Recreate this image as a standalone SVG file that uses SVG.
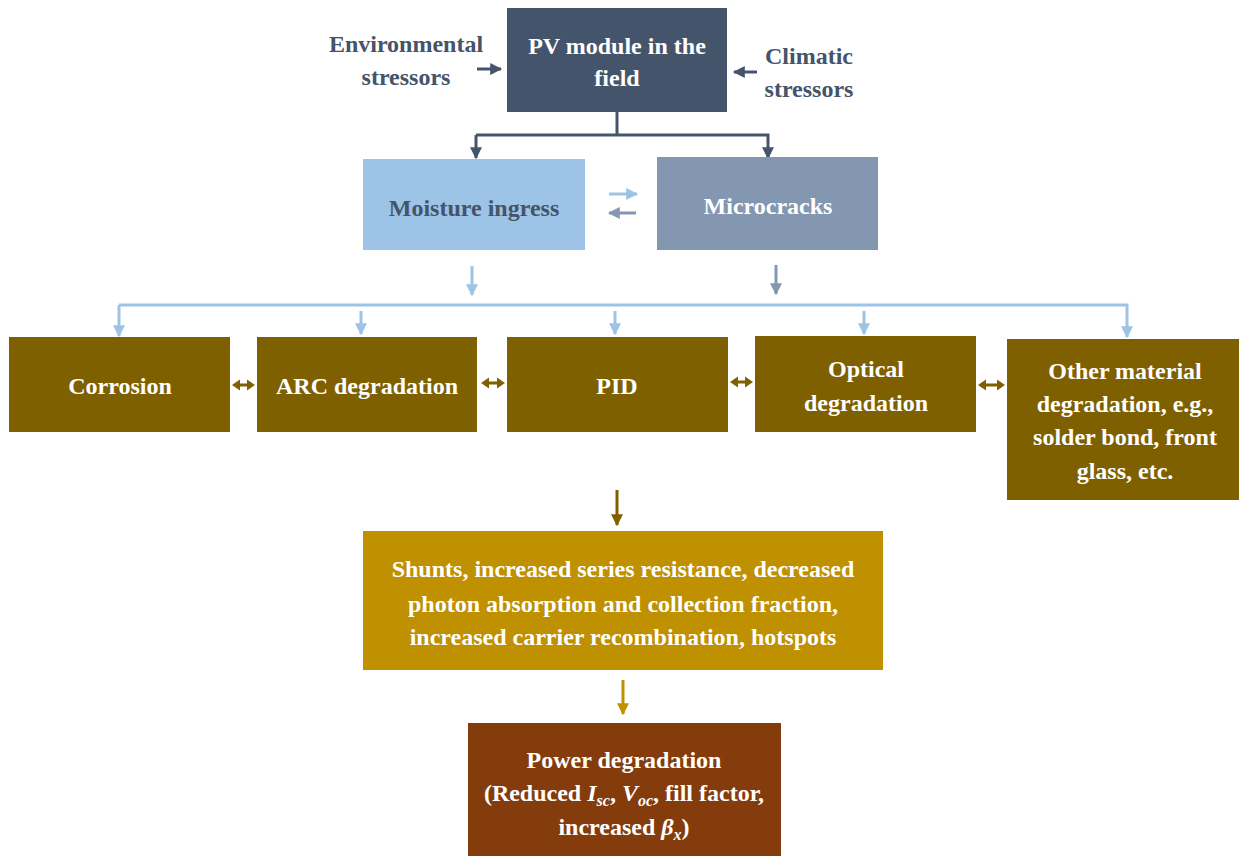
<svg xmlns="http://www.w3.org/2000/svg" width="1239" height="856" viewBox="0 0 1239 856">
<defs>
<style>
text{font-family:"Liberation Serif","Times New Roman",serif;font-weight:bold;font-size:24px;text-anchor:middle}
.w{fill:#ffffff}
.s{fill:#44546a}
.ln{fill:none;stroke-width:3}
.dbl{fill:#7f6000}
</style>
<marker id="aS" viewBox="0 0 10 10" refX="9" refY="5" markerWidth="4" markerHeight="4" orient="auto" markerUnits="strokeWidth"><path d="M0,0L10,5L0,10z" fill="#44546a"/></marker>
<marker id="aB" viewBox="0 0 10 10" refX="9" refY="5" markerWidth="4" markerHeight="4" orient="auto" markerUnits="strokeWidth"><path d="M0,0L10,5L0,10z" fill="#9dc3e6"/></marker>
<marker id="aG" viewBox="0 0 10 10" refX="9" refY="5" markerWidth="4" markerHeight="4" orient="auto" markerUnits="strokeWidth"><path d="M0,0L10,5L0,10z" fill="#8497b0"/></marker>
<marker id="aR" viewBox="0 0 10 10" refX="9" refY="5" markerWidth="4" markerHeight="4" orient="auto" markerUnits="strokeWidth"><path d="M0,0L10,5L0,10z" fill="#7f6000"/></marker>
<marker id="aY" viewBox="0 0 10 10" refX="9" refY="5" markerWidth="4" markerHeight="4" orient="auto" markerUnits="strokeWidth"><path d="M0,0L10,5L0,10z" fill="#bf9000"/></marker>
</defs>

<g id="connectors">
<line class="ln" x1="477" y1="69" x2="501" y2="69" stroke="#44546a" marker-end="url(#aS)"/>
<line class="ln" x1="757" y1="72" x2="734" y2="72" stroke="#44546a" marker-end="url(#aS)"/>
<polyline class="ln" points="617,112 617,135" stroke="#44546a"/>
<polyline class="ln" points="476,135 768,135 768,158" stroke="#44546a" marker-end="url(#aS)"/>
<line class="ln" x1="476" y1="135" x2="476" y2="158" stroke="#44546a" marker-end="url(#aS)"/>
<line class="ln" x1="609" y1="194" x2="637" y2="194" stroke="#9dc3e6" marker-end="url(#aB)"/>
<line class="ln" x1="636" y1="213" x2="609" y2="213" stroke="#8497b0" marker-end="url(#aG)"/>
<line class="ln" x1="472" y1="266" x2="472" y2="295" stroke="#9dc3e6" marker-end="url(#aB)"/>
<line class="ln" x1="776" y1="265" x2="776" y2="294" stroke="#8497b0" marker-end="url(#aG)"/>
<polyline class="ln" points="119,305 1127,305 1127,337" stroke="#9dc3e6" marker-end="url(#aB)"/>
<line class="ln" x1="119" y1="305" x2="119" y2="336" stroke="#9dc3e6" marker-end="url(#aB)"/>
<line class="ln" x1="361" y1="311" x2="361" y2="334" stroke="#9dc3e6" marker-end="url(#aB)"/>
<line class="ln" x1="615" y1="311" x2="615" y2="334" stroke="#9dc3e6" marker-end="url(#aB)"/>
<line class="ln" x1="864" y1="311" x2="864" y2="334" stroke="#9dc3e6" marker-end="url(#aB)"/>
<path class="dbl" d="M232,385 l8,-5.5 v4 h7 v-4 l8,5.5 l-8,5.5 v-4 h-7 v4 z"/>
<path class="dbl" d="M481,383 l8,-5.5 v4 h8 v-4 l8,5.5 l-8,5.5 v-4 h-8 v4 z"/>
<path class="dbl" d="M730,382 l8,-5.5 v4 h7 v-4 l8,5.5 l-8,5.5 v-4 h-7 v4 z"/>
<path class="dbl" d="M978,385 l8,-5.5 v4 h11 v-4 l8,5.5 l-8,5.5 v-4 h-11 v4 z"/>
<line class="ln" x1="617" y1="490" x2="617" y2="525" stroke="#7f6000" marker-end="url(#aR)"/>
<line class="ln" x1="623" y1="680" x2="623" y2="714" stroke="#bf9000" marker-end="url(#aY)"/>
</g>

<g id="env"><text class="s" x="406" y="52">Environmental</text><text class="s" x="406" y="85">stressors</text></g>
<g id="clim"><text class="s" x="809" y="64">Climatic</text><text class="s" x="809" y="97">stressors</text></g>

<g id="pv"><rect x="507" y="8" width="220" height="104" fill="#44546a"/><text class="w" x="617" y="54">PV module in the</text><text class="w" x="617" y="86">field</text></g>

<g id="moisture"><rect x="363" y="159" width="222" height="91" fill="#9dc3e6"/><text class="s" x="474" y="216">Moisture ingress</text></g>
<g id="microcracks"><rect x="657" y="157" width="221" height="93" fill="#8497b0"/><text class="w" x="768" y="214">Microcracks</text></g>

<g id="corrosion"><rect x="9" y="337" width="221" height="95" fill="#7f6000"/><text class="w" x="120" y="394">Corrosion</text></g>
<g id="arc"><rect x="257" y="337" width="220" height="95" fill="#7f6000"/><text class="w" x="367" y="394">ARC degradation</text></g>
<g id="pid"><rect x="507" y="337" width="221" height="95" fill="#7f6000"/><text class="w" x="617" y="394">PID</text></g>
<g id="optical"><rect x="755" y="336" width="221" height="96" fill="#7f6000"/><text class="w" x="866" y="377">Optical</text><text class="w" x="866" y="411">degradation</text></g>
<g id="other"><rect x="1007" y="339" width="232" height="161" fill="#7f6000"/><text class="w" x="1125" y="379">Other material</text><text class="w" x="1125" y="412">degradation, e.g.,</text><text class="w" x="1125" y="445">solder bond, front</text><text class="w" x="1125" y="479">glass, etc.</text></g>

<g id="shunts"><rect x="363" y="531" width="520" height="139" fill="#bf9000"/><text class="w" x="623" y="577">Shunts, increased series resistance, decreased</text><text class="w" x="623" y="612">photon absorption and collection fraction,</text><text class="w" x="623" y="645">increased carrier recombination, hotspots</text></g>

<g id="power"><rect x="468" y="723" width="313" height="133" fill="#843c0c"/><text class="w" x="624" y="768">Power degradation</text><text class="w" x="624" y="801">(Reduced <tspan font-style="italic">I</tspan><tspan font-style="italic" font-size="16" dy="5">sc</tspan><tspan dy="-5">, </tspan><tspan font-style="italic">V</tspan><tspan font-style="italic" font-size="16" dy="5">oc</tspan><tspan dy="-5">, fill factor,</tspan></text><text class="w" x="624" y="835">increased <tspan font-style="italic">β</tspan><tspan font-style="italic" font-size="16" dy="5">x</tspan><tspan dy="-5">)</tspan></text></g>
</svg>
